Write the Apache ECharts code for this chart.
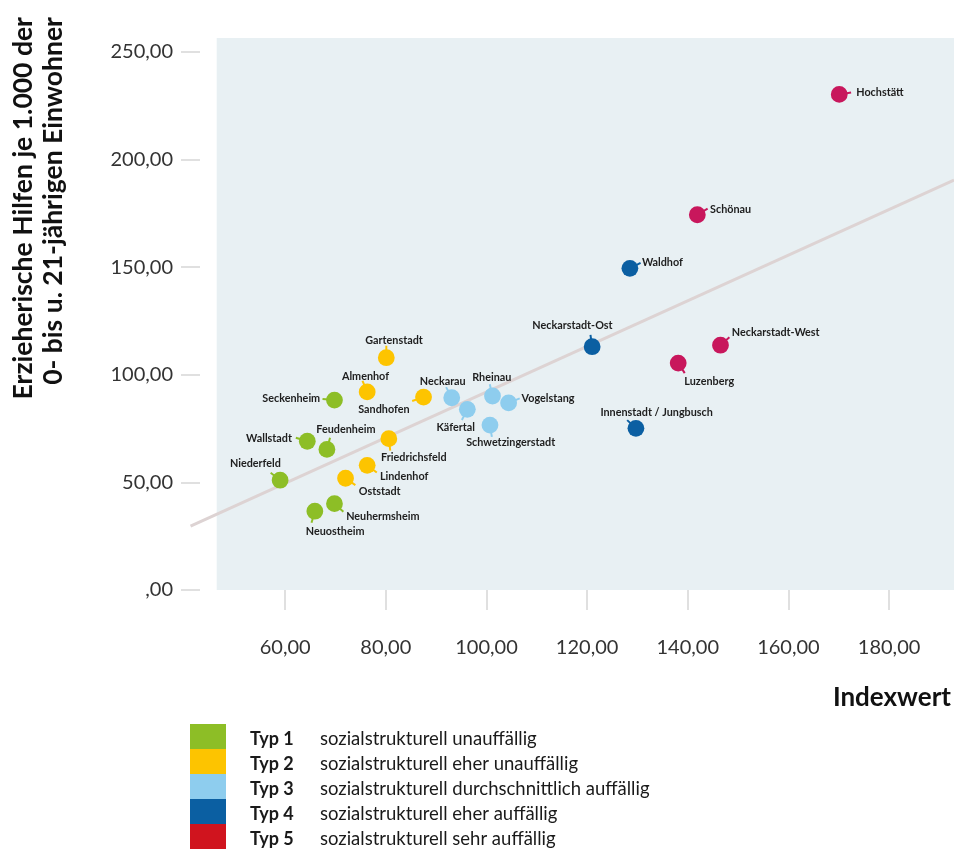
<!DOCTYPE html>
<html>
<head>
<meta charset="utf-8">
<script src="https://cdn.jsdelivr.net/npm/echarts@6/dist/echarts.min.js"></script>
<style>
  html, body { margin: 0; padding: 0; background: #ffffff; }
  #chart { width: 954px; height: 849px; }
</style>
</head>
<body>
<div id="chart"></div>
<script>
// Stadtteile: Indexwert (x) und Erzieherische Hilfen je 1.000 der 0- bis u. 21-Jährigen (y)
const districts = [
  'Seckenheim', 'Wallstadt', 'Feudenheim', 'Niederfeld', 'Neuhermsheim', 'Neuostheim',
  'Gartenstadt', 'Almenhof', 'Sandhofen', 'Friedrichsfeld', 'Lindenhof', 'Oststadt',
  'Neckarau', 'Käfertal', 'Rheinau', 'Vogelstang', 'Schwetzingerstadt',
  'Waldhof', 'Neckarstadt-Ost', 'Innenstadt / Jungbusch',
  'Hochstätt', 'Schönau', 'Neckarstadt-West', 'Luzenberg'
];
const indexwert = [
  69.8, 64.4, 68.3, 59.0, 69.8, 65.9,
  80.1, 76.3, 87.5, 80.6, 76.3, 72.0,
  93.1, 96.2, 101.2, 104.4, 100.7,
  128.5, 121.0, 129.7,
  170.1, 141.9, 146.5, 138.1
];
const hilfen = [
  88.2, 69.1, 65.3, 51.0, 40.1, 36.6,
  107.9, 92.0, 89.6, 70.3, 57.9, 51.9,
  89.3, 83.9, 90.1, 86.9, 76.6,
  149.4, 113.0, 75.1,
  230.2, 174.3, 113.7, 105.4
];
const typ = [
  1, 1, 1, 1, 1, 1,
  2, 2, 2, 2, 2, 2,
  3, 3, 3, 3, 3,
  4, 4, 4,
  5, 5, 5, 5
];

const typeNames = ['Typ 1', 'Typ 2', 'Typ 3', 'Typ 4', 'Typ 5'];
const typeDescriptions = [
  'sozialstrukturell unauffällig',
  'sozialstrukturell eher unauffällig',
  'sozialstrukturell durchschnittlich auffällig',
  'sozialstrukturell eher auffällig',
  'sozialstrukturell sehr auffällig'
];

const xTicks = [60, 80, 100, 120, 140, 160, 180];
const yTicks = [0, 50, 100, 150, 200, 250];

// Regressionsgerade: [x1, y1, x2, y2]
const trendLine = [41.2, 29.7, 192.9, 190.4];

// Farben
const pointColors = ['#8dbe26', '#fdc400', '#8ecdee', '#0b5fa2', '#c8175c'];
const legendColors = ['#8dbe26', '#fdc400', '#8ecdee', '#0b5fa2', '#d0141e'];

// Richtung des Fähnchens und Lage der Beschriftung je Stadtteil
const pinPlacement = {
  'Gartenstadt':            { angle: -90,  dx: 7.7,   dy: -17,   align: 'center' },
  'Almenhof':               { angle: -113, dx: -1.7,  dy: -15.3, align: 'center' },
  'Seckenheim':             { angle: 185,  dx: -14.3, dy: -1.3,  align: 'right' },
  'Sandhofen':              { angle: 161,  dx: -14,   dy: 12.3,  align: 'right' },
  'Neckarau':               { angle: -118, dx: -9,    dy: -16.7, align: 'center' },
  'Käfertal':               { angle: 117,  dx: -11.7, dy: 18.3,  align: 'center' },
  'Rheinau':                { angle: -103, dx: -0.7,  dy: -18.7, align: 'center' },
  'Vogelstang':             { angle: -22,  dx: 13,    dy: -4.3,  align: 'left' },
  'Schwetzingerstadt':      { angle: 81,   dx: 20.7,  dy: 17.7,  align: 'center' },
  'Wallstadt':              { angle: -163, dx: -15.3, dy: -2.3,  align: 'right' },
  'Feudenheim':             { angle: -75,  dx: 19,    dy: -20,   align: 'center' },
  'Friedrichsfeld':         { angle: 83,   dx: 25,    dy: 18.7,  align: 'center' },
  'Lindenhof':              { angle: 37,   dx: 12.7,  dy: 11,    align: 'left' },
  'Oststadt':               { angle: 35,   dx: 13.3,  dy: 13,    align: 'left' },
  'Niederfeld':             { angle: -142, dx: -24.7, dy: -16.3, align: 'center' },
  'Neuhermsheim':           { angle: 42,   dx: 11.7,  dy: 13.3,  align: 'left' },
  'Neuostheim':             { angle: 106,  dx: 20.3,  dy: 20.3,  align: 'center' },
  'Schönau':                { angle: -31,  dx: 12.7,  dy: -5.7,  align: 'left' },
  'Waldhof':                { angle: -27,  dx: 12,    dy: -6.3,  align: 'left' },
  'Neckarstadt-Ost':        { angle: -98,  dx: -19.7, dy: -21,   align: 'center' },
  'Neckarstadt-West':       { angle: -42,  dx: 11.3,  dy: -13,   align: 'left' },
  'Luzenberg':              { angle: 57,   dx: 31,    dy: 18,    align: 'center' },
  'Innenstadt / Jungbusch': { angle: -137, dx: 20.7,  dy: -16,   align: 'center' },
  'Hochstätt':              { angle: -9,   dx: 17,    dy: -2,    align: 'left' }
};

function formatDecimal(v) {
  return v === 0 ? ',00' : v.toFixed(2).replace('.', ',');
}

const pointSeries = typeNames.map(function (name, k) {
  const members = districts.map(function (d, i) { return i; })
    .filter(function (i) { return typ[i] === k + 1; });
  const color = pointColors[k];
  return {
    type: 'custom',
    name: name,
    z: 3,
    data: members.map(function (i) {
      return { name: districts[i], value: [indexwert[i], hilfen[i]] };
    }),
    renderItem: function (params, api) {
      const label = districts[members[params.dataIndex]];
      const p = api.coord([api.value(0), api.value(1)]);
      const pl = pinPlacement[label];
      const a = pl.angle * Math.PI / 180;
      return {
        type: 'group',
        children: [
          {
            type: 'line',
            shape: { x1: p[0], y1: p[1], x2: p[0] + 12 * Math.cos(a), y2: p[1] + 12 * Math.sin(a) },
            style: { stroke: color, lineWidth: 2 }
          },
          {
            type: 'circle',
            shape: { cx: p[0], cy: p[1], r: 8.4 },
            style: { fill: color }
          },
          {
            type: 'text',
            x: p[0] + pl.dx,
            y: p[1] + pl.dy,
            style: {
              text: label,
              align: pl.align,
              verticalAlign: 'middle',
              font: 'bold 10.8px Lato',
              fill: '#1e1e1e'
            }
          }
        ]
      };
    }
  };
});

// Regressionsgerade, reicht links bis an die Achsenkreuzung
const trendSeries = {
  type: 'custom',
  name: 'Trend',
  z: 1,
  silent: true,
  clip: false,
  data: [trendLine],
  renderItem: function (params, api) {
    const p1 = api.coord([api.value(0), api.value(1)]);
    const p2 = api.coord([api.value(2), api.value(3)]);
    return {
      type: 'line',
      shape: { x1: p1[0], y1: p1[1], x2: p2[0], y2: p2[1] },
      style: { stroke: '#ddd3d3', lineWidth: 3 }
    };
  }
};

const chart = echarts.init(document.getElementById('chart'), null, { renderer: 'canvas' });

chart.setOption({
  animation: false,
  backgroundColor: '#ffffff',
  grid: {
    left: 216.7,
    right: 0,
    top: 38,
    bottom: 259,
    show: true,
    backgroundColor: '#e8f0f3',
    borderWidth: 0
  },
  xAxis: {
    type: 'value',
    min: 46.4,
    max: 192.9,
    offset: 21,
    axisLine: { show: false },
    axisTick: {
      show: true, length: 20, customValues: xTicks,
      lineStyle: { color: '#d6d6d6', width: 1.5 }
    },
    axisLabel: {
      customValues: xTicks,
      margin: 27,
      formatter: formatDecimal,
      color: '#333333',
      fontFamily: 'Lato',
      fontSize: 20
    },
    splitLine: { show: false }
  },
  yAxis: {
    type: 'value',
    min: 0,
    max: 256.4,
    offset: 16.7,
    axisLine: { show: false },
    axisTick: {
      show: true, length: 19, customValues: yTicks,
      lineStyle: { color: '#d6d6d6', width: 1.5 }
    },
    axisLabel: {
      customValues: yTicks,
      margin: 27,
      formatter: formatDecimal,
      color: '#333333',
      fontFamily: 'Lato',
      fontSize: 20
    },
    splitLine: { show: false }
  },
  legend: {
    orient: 'vertical',
    left: 190,
    top: 724,
    padding: 0,
    itemGap: 0,
    itemWidth: 36,
    itemHeight: 25,
    icon: 'rect',
    selectedMode: false,
    data: typeNames.map(function (n, k) {
      return { name: n, itemStyle: { color: legendColors[k] } };
    }),
    formatter: function (n) {
      return '{s|}{b|' + n + '}{n|' + typeDescriptions[typeNames.indexOf(n)] + '}';
    },
    textStyle: {
      rich: {
        s: { width: 19, lineHeight: 18, padding: [6, 0, 0, 0] },
        b: { width: 70, fontWeight: 'bold', fontSize: 18, lineHeight: 18, padding: [6, 0, 0, 0], fontFamily: 'Lato', color: '#1a1a1a' },
        n: { fontSize: 18.5, lineHeight: 18, padding: [6, 0, 0, 0], fontFamily: 'Lato', color: '#1a1a1a' }
      }
    }
  },
  graphic: [
    {
      type: 'text',
      x: 38,
      y: 17,
      rotation: Math.PI / 2,
      style: {
        text: 'Erzieherische Hilfen je 1.000 der\n0- bis u. 21-jährigen Einwohner',
        align: 'right',
        verticalAlign: 'middle',
        font: 'bold 26.5px Lato',
        lineHeight: 30,
        fill: '#111111'
      }
    },
    {
      type: 'text',
      x: 951,
      y: 698,
      style: {
        text: 'Indexwert',
        align: 'right',
        verticalAlign: 'middle',
        font: 'bold 26px Lato',
        fill: '#111111'
      }
    }
  ],
  series: [trendSeries].concat(pointSeries)
});
</script>
</body>
</html>
